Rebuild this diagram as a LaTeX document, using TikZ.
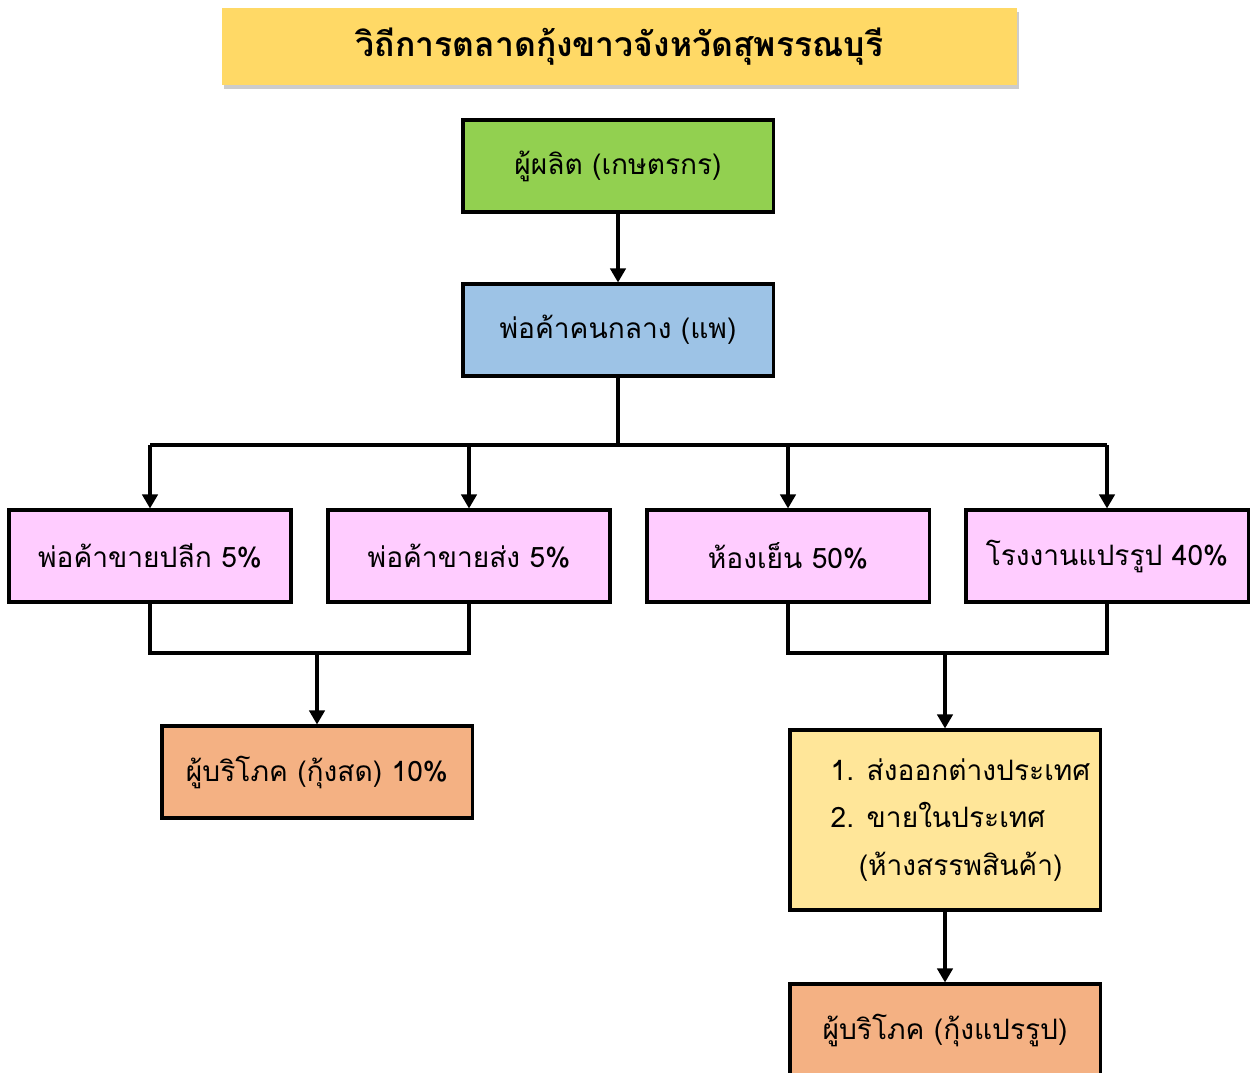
\documentclass[tikz,border=0pt]{standalone}
\usepackage{fontspec}
\newfontfamily\thaifont[Script=Thai]{Loma}
\usepackage{tikz}
\usetikzlibrary{arrows.meta}
\usetikzlibrary{shadows}
\definecolor{titleyellow}{HTML}{FFD966}
\definecolor{prodgreen}{HTML}{92D050}
\definecolor{midblue}{HTML}{9DC3E6}
\definecolor{shoppink}{HTML}{FFCCFF}
\definecolor{consorange}{HTML}{F4B183}
\definecolor{exportyellow}{HTML}{FFE699}

\begin{document}
\begin{tikzpicture}[x=0.025cm,y=-0.025cm,
    font=\thaifont\fontsize{20}{34}\selectfont,
    box/.style={draw,line width=2.2pt,minimum width=7.75cm,minimum height=2.3cm,inner sep=0pt},
    shopbox/.style={box,fill=shoppink,minimum width=7.05cm},
    line/.style={line width=2.2pt},
    arr/.style={line width=2.2pt,-{Triangle[length=10pt,width=11pt]}}]
      % the page (pixel units, y down)
      \useasboundingbox (0,0) rectangle (1254,1072);
      % title
      \node[fill=titleyellow,minimum width=19.875cm,minimum height=1.925cm,
        drop shadow={shadow xshift=1.5pt,shadow yshift=-3pt,opacity=0.4}] (title) at (619.5,46.5)
        {\bfseries\fontsize{24}{30}\selectfont วิถีการตลาดกุ้งขาวจังหวัดสุพรรณบุรี};
      %% the chain
      \node[box,fill=prodgreen] (prod) at (618,166) {ผู้ผลิต (เกษตรกร)};
      \node[box,fill=midblue] (mid) at (618,330) {พ่อค้าคนกลาง (แพ)};
      \node[shopbox] (retail) at (150,556) {พ่อค้าขายปลีก 5\%};
      \node[shopbox] (whole) at (469,556) {พ่อค้าขายส่ง 5\%};
      \node[shopbox] (cold) at (788,556) {ห้องเย็น 50\%};
      \node[shopbox] (plant) at (1107,556) {โรงงานแปรรูป 40\%};
      \node[box,fill=consorange] (fresh) at (317,772) {ผู้บริโภค (กุ้งสด) 10\%};
      \node[box,fill=exportyellow,minimum height=4.5cm,align=left] (export) at (945,820)
        {\hspace*{1.1em}1. ส่งออกต่างประเทศ\\\hspace*{1.1em}2. ขายในประเทศ\\\hspace*{2.1em}(ห้างสรรพสินค้า)};
      \node[box,fill=consorange] (processed) at (945,1030) {ผู้บริโภค (กุ้งแปรรูป)};
      % the connectors
      \coordinate (bus) at (618,445);
      \coordinate (joinl) at (317,653);
      \coordinate (joinr) at (945,653);
      \draw[arr] (prod) -- (mid);
      \draw[line] (mid) -- (bus);
      \draw[line] (bus -| retail) -- (bus -| plant);
      \foreach \n in {retail,whole,cold,plant}
        \draw[arr] (bus -| \n) -- (\n);
      \draw[line] (retail) -- (retail |- joinl) -- (whole |- joinl) -- (whole);
      \draw[arr] (joinl) -- (fresh);
      \draw[line] (cold) -- (cold |- joinr) -- (plant |- joinr) -- (plant);
      \draw[arr] (joinr) -- (export);
      \draw[arr] (export) -- (processed);
\end{tikzpicture}
\end{document}
